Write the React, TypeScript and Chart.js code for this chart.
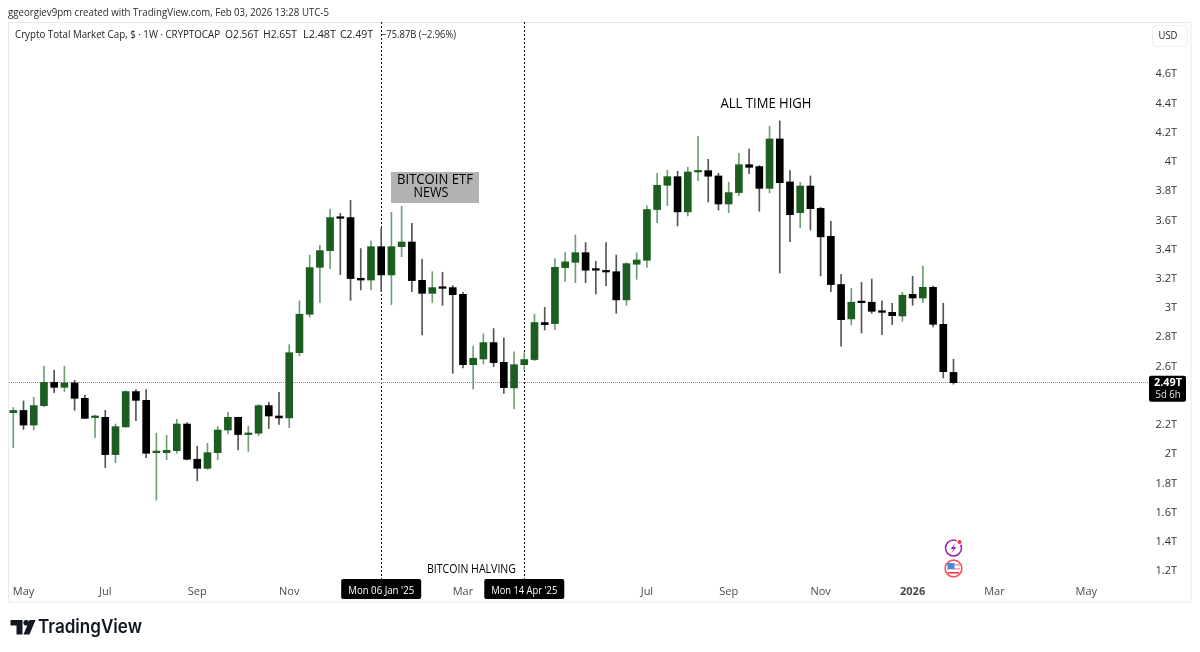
import React, { useEffect, useRef } from "react";
import { Chart, registerables } from "chart.js";

Chart.register(...registerables);

const opens = [2.285,2.30,2.20,2.333,2.492,2.458,2.488,2.383,2.251,2.253,1.998,2.187,2.429,2.369,2.011,2.011,2.025,2.207,1.966,1.904,2.011,2.166,2.253,2.135,2.144,2.333,2.262,
  2.249,2.695,2.958,3.279,3.393,3.621,3.619,3.204,3.192,3.42,3.227,3.42,3.452,3.19,3.101,3.142,3.14,3.094,2.613,2.652,2.764,2.629,2.454,2.613,2.648,2.901,2.894,3.277,3.313,
  3.379,3.263,3.256,3.249,3.056,3.3,3.327,3.674,3.84,3.899,3.658,3.931,3.94,3.904,3.712,3.79,3.981,3.968,3.819,4.157,3.863,3.653,3.835,3.682,3.491,3.161,2.926,3.042,3.04,2.98,2.971,2.946,3.094,3.069,3.142,2.889,2.56];
const highs = [2.32,2.365,2.39,2.602,2.575,2.602,2.506,2.404,2.269,2.301,2.207,2.435,2.442,2.442,2.144,2.13,2.239,2.217,2.055,2.075,2.189,2.287,2.255,2.192,2.34,2.356,2.424,
  2.75,3.049,3.361,3.43,3.678,3.648,3.737,3.407,3.459,3.546,3.655,3.696,3.58,3.334,3.249,3.245,3.154,3.108,2.741,2.823,2.86,2.796,2.7,2.695,2.958,3.005,3.338,3.379,3.5,
  3.448,3.32,3.448,3.363,3.311,3.379,3.699,3.922,3.943,3.936,3.963,4.175,4.018,3.922,3.86,4.059,4.088,3.974,4.244,4.28,3.94,3.86,3.904,3.689,3.594,3.231,3.135,3.176,3.199,3.049,3.033,3.108,3.218,3.288,3.151,3.033,2.65];
const lows = [2.045,2.17,2.166,2.326,2.422,2.429,2.301,2.244,2.114,1.909,1.943,2.185,2.23,1.977,1.687,1.964,2.007,1.961,1.818,1.897,1.964,2.139,2.03,2.02,2.128,2.176,2.205,
  2.182,2.673,2.939,3.037,3.27,3.229,3.053,3.124,3.124,3.113,3.024,3.352,3.113,2.816,3.037,3.019,2.554,2.591,2.445,2.618,2.6,2.417,2.31,2.581,2.641,2.85,2.853,3.183,3.174,
  3.174,3.097,3.154,2.964,3.019,3.197,3.279,3.585,3.701,3.562,3.63,3.872,3.726,3.671,3.653,3.769,3.92,3.662,3.788,3.24,3.455,3.548,3.534,3.22,3.113,2.739,2.885,2.83,2.964,2.819,2.887,2.91,3.019,3.037,2.871,2.522,2.48];
const closes = [2.30,2.20,2.333,2.492,2.458,2.488,2.383,2.246,2.255,1.998,2.189,2.429,2.369,2.007,2.014,2.027,2.207,1.966,1.904,2.011,2.166,2.253,2.135,2.144,2.333,2.262,2.249,
  2.695,2.958,3.277,3.393,3.619,3.614,3.202,3.192,3.42,3.227,3.42,3.452,3.188,3.101,3.14,3.135,3.092,2.613,2.657,2.764,2.627,2.456,2.613,2.648,2.901,2.887,3.279,3.316,3.379,
  3.259,3.259,3.247,3.056,3.304,3.329,3.674,3.84,3.899,3.658,3.931,3.94,3.902,3.712,3.79,3.981,3.963,3.819,4.157,3.858,3.639,3.835,3.68,3.487,3.161,2.921,3.04,3.037,2.978,2.971,2.948,3.088,3.069,3.142,2.889,2.565,2.49];

const priceTicks = [1.2,1.4,1.6,1.8,2,2.2,2.6,2.8,3,3.2,3.4,3.6,3.8,4,4.2,4.4,4.6];
const monthIndex = [1,9,18,27,44,62,70,79,88,96,105];
const monthLabels = ["May","Jul","Sep","Nov","Mar","Jul","Sep","Nov","2026","Mar","May"];
const etfIndex = 36;
const halvingIndex = 50;
const lastPrice = 2.49;
const headerName = "Crypto Total Market Cap, $ · 1W · CRYPTOCAP";
const headerValues = ["O2.56T","H2.65T","L2.48T","C2.49T","−75.87B (−2.96%)"];

const FONT = '"Open Sans", "Noto Sans", sans-serif';
const GREEN = "#1b5e20";
const GREEN_WICK = "#6f9f75";
const BLACK = "#000000";
const BLACK_WICK = "#555555";

function txt(ctx: any, s: string, x: number, y: number, font: string, color: string, align: any = "left", maxW?: number) {
  ctx.font = font;
  ctx.fillStyle = color;
  ctx.textAlign = align;
  ctx.textBaseline = "middle";
  if (maxW) ctx.fillText(s, x, y, maxW);
  else ctx.fillText(s, x, y);
}

function roundBox(ctx: any, x: number, y: number, w: number, h: number, r: number) {
  ctx.beginPath();
  ctx.roundRect(x, y, w, h, r);
}

const overlay = {
  id: "overlay",
  beforeDraw(chart: any) {
    const { ctx } = chart;
    ctx.save();
    ctx.fillStyle = "#ffffff";
    ctx.fillRect(0, 0, 1200, 652);
    ctx.strokeStyle = "#e9e9e9";
    ctx.lineWidth = 1;
    ctx.strokeRect(8.5, 22.5, 1182.5, 579.5);
    ctx.restore();
  },
  beforeDatasetsDraw(chart: any) {
    const { ctx, scales, chartArea } = chart;
    ctx.save();
    ctx.strokeStyle = "#111111";
    ctx.lineWidth = 1;
    ctx.setLineDash([2, 2]);
    [etfIndex, halvingIndex].forEach((i) => {
      const x = Math.floor(scales.x.getPixelForValue(i)) + 0.5;
      ctx.beginPath();
      ctx.moveTo(x, 22);
      ctx.lineTo(x, chartArea.bottom);
      ctx.stroke();
    });
    ctx.strokeStyle = "#8a8a8a";
    ctx.setLineDash([1, 1]);
    const y = Math.floor(scales.y.getPixelForValue(lastPrice)) + 0.5;
    ctx.beginPath();
    ctx.moveTo(chartArea.left, y);
    ctx.lineTo(chartArea.right, y);
    ctx.stroke();
    ctx.restore();
  },
  afterDraw(chart: any) {
    const { ctx, scales } = chart;
    ctx.save();
    // caption and header
    txt(ctx, "ggeorgiev9pm created with TradingView.com, Feb 03, 2026 13:28 UTC-5", 8, 13, `11px ${FONT}`, "#2a2a2a", "left", 321);
    txt(ctx, headerName, 15, 35, `11px ${FONT}`, "#222222", "left", 205);
    const hx = [225, 263, 303, 340, 381];
    const hw = [34, 34, 33, 33, 75];
    headerValues.forEach((s, i) => txt(ctx, s, hx[i], 35, `11px ${FONT}`, "#222222", "left", hw[i]));
    // USD button
    ctx.strokeStyle = "#efefef";
    ctx.lineWidth = 1;
    roundBox(ctx, 1152.5, 25.5, 35, 21, 4);
    ctx.stroke();
    txt(ctx, "USD", 1168, 36, `11px ${FONT}`, "#222222", "center", 19);
    // annotations
    ctx.fillStyle = "#b2b2b2";
    ctx.fillRect(391, 172, 88, 31);
    txt(ctx, "BITCOIN ETF", 435, 180.5, `14px ${FONT}`, "#000000", "center", 76);
    txt(ctx, "NEWS", 431, 193.5, `14px ${FONT}`, "#000000", "center", 35);
    txt(ctx, "ALL TIME HIGH", 766, 104, `14px ${FONT}`, "#000000", "center", 91);
    txt(ctx, "BITCOIN HALVING", 471.5, 569, `13px ${FONT}`, "#000000", "center", 89);
    // crosshair date labels
    const etfX = scales.x.getPixelForValue(etfIndex);
    const halvX = scales.x.getPixelForValue(halvingIndex);
    [[etfX, "Mon 06 Jan '25"], [halvX, "Mon 14 Apr '25"]].forEach(([x, s]: any) => {
      ctx.fillStyle = "#000000";
      roundBox(ctx, x - 40, 579, 80, 20, 2);
      ctx.fill();
      txt(ctx, s, x, 590.5, `11px ${FONT}`, "#ffffff", "center", 66);
    });
    // last price label
    const py = scales.y.getPixelForValue(lastPrice);
    ctx.fillStyle = "#000000";
    roundBox(ctx, 1149, py - 7, 37, 26, 2);
    ctx.fill();
    txt(ctx, "2.49T", 1168, py + 0.5, `bold 11px ${FONT}`, "#ffffff", "center", 28);
    txt(ctx, "5d 6h", 1168, py + 12.5, `10.5px ${FONT}`, "#e4e4e4", "center", 25);
    // event icons
    ctx.strokeStyle = "#9c27b0";
    ctx.lineWidth = 1.6;
    ctx.beginPath();
    ctx.arc(953.5, 548, 8, 0, Math.PI * 2);
    ctx.stroke();
    ctx.fillStyle = "#9c27b0";
    ctx.beginPath();
    ctx.moveTo(955.5, 543); ctx.lineTo(950.5, 549); ctx.lineTo(953.5, 549);
    ctx.lineTo(951.5, 553); ctx.lineTo(956.5, 547); ctx.lineTo(953.5, 547);
    ctx.closePath();
    ctx.fill();
    ctx.fillStyle = "#ffffff";
    ctx.beginPath(); ctx.arc(959.5, 542, 3, 0, Math.PI * 2); ctx.fill();
    ctx.fillStyle = "#f23645";
    ctx.beginPath(); ctx.arc(959.5, 542, 2, 0, Math.PI * 2); ctx.fill();
    ctx.strokeStyle = "#f7525f";
    ctx.lineWidth = 1.6;
    ctx.beginPath();
    ctx.arc(953.5, 568.5, 8.4, 0, Math.PI * 2);
    ctx.stroke();
    ctx.fillStyle = "#f7a0a7";
    ctx.fillRect(947, 564, 13, 1.6);
    ctx.fillRect(947, 568, 13, 1.6);
    ctx.fillStyle = "#f23645";
    ctx.fillRect(948, 572, 11, 1.6);
    ctx.fillStyle = "#3d8fe0";
    ctx.fillRect(947.5, 563, 7, 6);
    // TradingView logo
    ctx.fillStyle = "#131722";
    ctx.beginPath();
    ctx.moveTo(10.5, 620); ctx.lineTo(22.5, 620); ctx.lineTo(22.5, 634.5); ctx.lineTo(16.5, 634.5);
    ctx.lineTo(16.5, 625.5); ctx.lineTo(10.5, 625.5); ctx.closePath();
    ctx.fill();
    ctx.beginPath(); ctx.arc(26.2, 622.8, 2.8, 0, Math.PI * 2); ctx.fill();
    ctx.beginPath();
    ctx.moveTo(29.5, 620); ctx.lineTo(35.5, 620); ctx.lineTo(29.5, 634.5); ctx.lineTo(23.5, 634.5);
    ctx.closePath();
    ctx.fill();
    txt(ctx, "TradingView", 38, 627.5, `600 18.5px Inter, Roboto, sans-serif`, "#131722", "left", 104);
    ctx.restore();
  },
};

export default function App() {
  const ref = useRef<HTMLCanvasElement | null>(null);
  useEffect(() => {
    if (!ref.current) return;
    const idx = closes.map((_, i) => i);
    const up = (i: number) => closes[i] >= opens[i];
    const chart = new Chart(ref.current, {
      type: "bar",
      data: {
        datasets: [
          {
            order: 0,
            data: idx.map((i) => ({ x: i, y: [Math.min(opens[i], closes[i]), Math.max(opens[i], closes[i])] })),
            backgroundColor: idx.map((i) => (up(i) ? GREEN : BLACK)),
            barThickness: 7,
            minBarLength: 1.6,
            borderWidth: 0,
            borderSkipped: false,
          } as any,
          {
            order: 1,
            data: idx.map((i) => ({ x: i, y: [lows[i], highs[i]] })),
            backgroundColor: idx.map((i) => (up(i) ? GREEN_WICK : BLACK_WICK)),
            barThickness: 1,
            borderWidth: 0,
            borderSkipped: false,
          } as any,
        ],
      },
      options: {
        responsive: false,
        animation: false,
        devicePixelRatio: 1,
        layout: { padding: { left: 9, top: 23, right: 23, bottom: 51 } },
        plugins: { legend: { display: false }, tooltip: { enabled: false } },
        scales: {
          x: {
            type: "linear",
            offset: false,
            min: -0.42,
            max: 111.13,
            stacked: true,
            grid: { display: false },
            border: { display: false },
            afterBuildTicks: (s: any) => { s.ticks = monthIndex.map((value) => ({ value })); },
            afterFit: (s: any) => { s.height = 22; },
            ticks: {
              autoSkip: false,
              maxRotation: 0,
              padding: -2,
              color: "#4a4a4a",
              font: (c: any) => ({ family: FONT, size: 11, weight: monthLabels[monthIndex.indexOf(c.tick?.value)] === "2026" ? "bold" : "normal" }),
              callback: (v: any) => monthLabels[monthIndex.indexOf(v)],
            },
          },
          y: {
            type: "linear",
            position: "right",
            min: 1.147,
            max: 4.95,
            grid: { display: false },
            border: { display: false },
            afterBuildTicks: (s: any) => { s.ticks = priceTicks.map((value) => ({ value })); },
            afterFit: (s: any) => { s.width = 28; },
            ticks: {
              autoSkip: false,
              padding: 6,
              crossAlign: "far",
              color: "#333333",
              font: { family: FONT, size: 11 },
              callback: (v: any) => `${v}T`,
            },
          },
        },
      } as any,
      plugins: [overlay],
    });
    return () => chart.destroy();
  }, []);
  return (
    <div style={{ position: "absolute", left: 0, top: 0, width: 1200, height: 652 }}>
      <canvas ref={ref} width={1200} height={652} style={{ display: "block", width: 1200, height: 652 }} />
    </div>
  );
}
